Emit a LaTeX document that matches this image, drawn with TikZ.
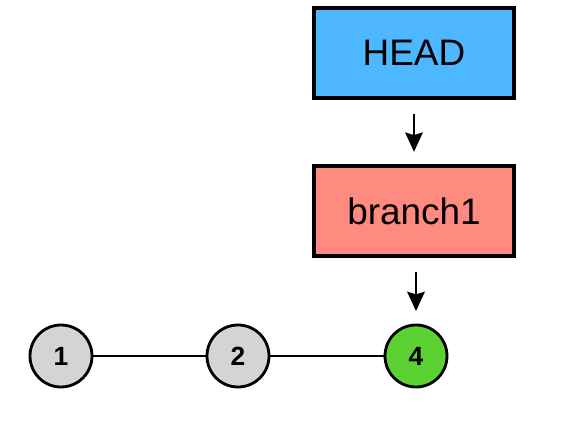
\documentclass[tikz,border=0pt]{standalone}
\usepackage{fontspec}
\setmainfont{Liberation Sans}
\usetikzlibrary{arrows.meta}
\definecolor{headblue}{HTML}{4DB8FF}
\definecolor{branchred}{HTML}{FF8A80}
\definecolor{commitgray}{HTML}{D4D4D4}
\definecolor{commitgreen}{HTML}{5BD132}

\tikzset{
  refbox/.style={draw,line width=1.9pt,minimum width=4cm,minimum height=1.8cm,
    font=\fontsize{21}{25}\selectfont},
  commit/.style={draw,circle,line width=1.6pt,minimum size=1.24cm,inner sep=0pt,
    fill=commitgray,font=\fontsize{15}{18}\selectfont\bfseries},
  pointer/.style={-{Stealth[length=11pt,width=10pt,inset=1.5pt]},line width=1.4pt,
    shorten <=0.28cm,shorten >=0.25cm},
}

\begin{document}
\begin{tikzpicture}
    \useasboundingbox (0,0) rectangle (11.28,8.48);
    \draw node at (8.28,7.42)[name=head,refbox,fill=headblue]{HEAD};
    \draw node at (8.28,4.26)[name=branch,refbox,fill=branchred]{branch1};
    \draw node at (1.22,1.36)[name=c1,commit]{1};
    \draw node at (4.76,1.36)[name=c2,commit]{2};
    \draw node at (8.32,1.36)[name=c4,commit,fill=commitgreen]{4};

    \draw[line width=1.2pt](c1) -- (c2);
    \draw[line width=1.2pt](c2) -- (c4);
    \draw[pointer](head) -- (branch);
    \draw[pointer](branch.south -| c4) -- (c4);
\end{tikzpicture}
\end{document}
